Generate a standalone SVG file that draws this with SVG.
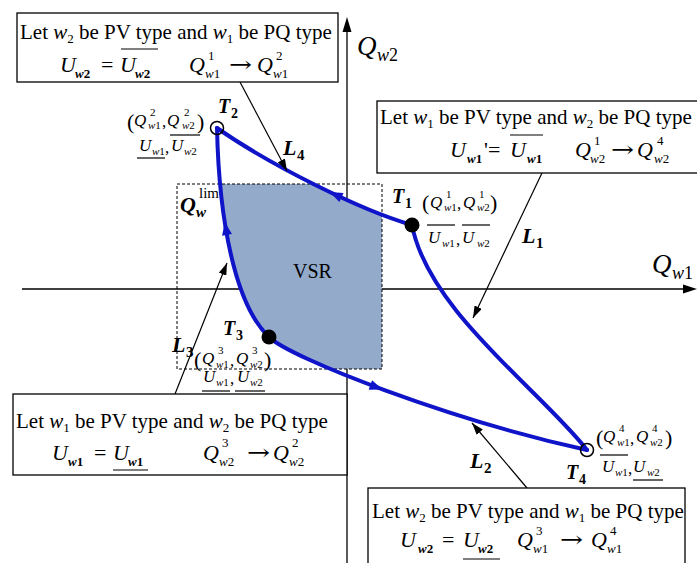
<svg xmlns="http://www.w3.org/2000/svg" width="697" height="563" viewBox="0 0 697 563">
<style>
text{font-family:"Liberation Serif","Times New Roman",serif;fill:#000}
.i{font-style:italic}
.b{font-weight:bold}
.box{fill:#fff;stroke:#000;stroke-width:1.3}
.ax{stroke:#000;stroke-width:1.3;fill:none}
.cur{fill:none;stroke:#0f14c8;stroke-width:4;stroke-linecap:round}
.ptr{stroke:#000;stroke-width:1.2;fill:none;marker-end:url(#ah)}
.ol{stroke:#000;stroke-width:1.2}
.ba{fill:#0f14c8}
.lt{font-size:21px}
.m{font-size:22px}
.ar{font-family:"DejaVu Serif","Liberation Serif",serif;font-size:22px}
.ms{font-size:13px}
.s{font-size:17px}
.ss{font-size:11px}
</style>
<defs>
<marker id="ah" viewBox="0 0 12 8" refX="12" refY="4" markerWidth="12" markerHeight="8" markerUnits="userSpaceOnUse" orient="auto"><path d="M0,0 L12,4 L0,8 Z" fill="#000"/></marker>
<clipPath id="rc"><rect x="177" y="184" width="205" height="185"/></clipPath>
<path id="bah" d="M7,0 L-6,-5 L-6,5 Z"/>
</defs>
<rect width="697" height="563" fill="#fff"/>
<g id="axes">
<line class="ax" x1="22" y1="289" x2="686" y2="289"/>
<path d="M697,289 L683,284.5 L683,293.5 Z"/>
<line class="ax" x1="347" y1="563" x2="347" y2="28"/>
<path d="M347,17 L342.5,32 L351.5,32 Z"/>
<text class="i" x="652" y="273" font-size="27">Q</text>
<text x="672" y="279" font-size="18"><tspan class="i">w</tspan>1</text>
<text class="i" x="357" y="55" font-size="27">Q</text>
<text x="377" y="61" font-size="18"><tspan class="i">w</tspan>2</text>
</g>
<g id="VSR">
<path clip-path="url(#rc)" fill="#93aacb" d="M412,225 C428,310 540,390 587,450 C450,420 290,358 269,337 C235,305 219,220 217,128 C270,165 360,210 412,225 Z"/>
<rect x="177" y="184" width="205" height="185" fill="none" stroke="#000" stroke-width="1" stroke-dasharray="3,2"/>
<text x="293" y="278" font-size="20">VSR</text>
<text class="i b" x="180" y="212" font-size="22">Q</text>
<text class="i b" x="196" y="217" font-size="15">w</text>
<text x="199" y="198" font-size="15">lim</text>
</g>
<g id="connectors">
<path id="L1" class="cur" d="M412,225 C428,310 540,390 587,450"/>
<path id="L2" class="cur" d="M269,337 C290,358 450,420 587,450"/>
<path id="L3" class="cur" d="M269,337 C235,305 219,220 217,128"/>
<path id="L4" class="cur" d="M217,128 C270,165 360,210 412,225"/>
<use href="#bah" class="ba" transform="translate(336,195) rotate(205)"/>
<use href="#bah" class="ba" transform="translate(226,229) rotate(-100)"/>
<use href="#bah" class="ba" transform="translate(376,387) rotate(20)"/>
<line class="ptr" x1="240" y1="82" x2="287" y2="171"/>
<line class="ptr" x1="542" y1="173" x2="473" y2="318"/>
<line class="ptr" x1="527" y1="488" x2="472" y2="423"/>
<line class="ptr" x1="175" y1="394" x2="227" y2="263"/>
<text class="i b" x="522" y="243" font-size="22">L</text><text class="b" x="536" y="248" font-size="15">1</text>
<text class="i b" x="470" y="468" font-size="22">L</text><text class="b" x="484" y="473" font-size="15">2</text>
<text class="i b" x="172" y="352" font-size="22">L</text><text class="b" x="186" y="357" font-size="15">3</text>
<text class="i b" x="283" y="155" font-size="22">L</text><text class="b" x="297" y="160" font-size="15">4</text>
</g>
<g id="T1">
<circle cx="412" cy="225" r="7.5" fill="#000"/>
<text class="i b" x="392" y="203" font-size="20">T</text><text class="b" x="405" y="208" font-size="14">1</text>
<text x="422" y="210" font-size="22">(</text>
<text class="i s" x="430" y="208">Q</text><text class="ss" x="446" y="198">1</text><text class="ss" x="444" y="211"><tspan class="i">w</tspan>1</text>
<text class="s" x="457" y="209">,</text>
<text class="i s" x="463" y="208">Q</text><text class="ss" x="479" y="198">1</text><text class="ss" x="477" y="211"><tspan class="i">w</tspan>2</text>
<text x="490" y="210" font-size="22">)</text>
<text class="i s" x="428" y="243">U</text><text class="ss" x="442" y="247"><tspan class="i">w</tspan>1</text>
<text class="s" x="456" y="245">,</text>
<text class="i s" x="462" y="243">U</text><text class="ss" x="477" y="247"><tspan class="i">w</tspan>2</text>
<line class="ol" x1="427" y1="225" x2="455" y2="225"/>
<line class="ol" x1="462" y1="225" x2="490" y2="225"/>
</g>
<g id="T2">
<circle cx="217" cy="128" r="6.5" fill="none" stroke="#000" stroke-width="1.5"/>
<text class="i b" x="218" y="113" font-size="20">T</text><text class="b" x="231" y="118" font-size="14">2</text>
<text x="127" y="129" font-size="22">(</text>
<text class="i s" x="134" y="126">Q</text><text class="ss" x="150" y="116">2</text><text class="ss" x="148" y="129"><tspan class="i">w</tspan>1</text>
<text class="s" x="162" y="127">,</text>
<text class="i s" x="167" y="126">Q</text><text class="ss" x="184" y="116">2</text><text class="ss" x="182" y="129"><tspan class="i">w</tspan>2</text>
<text x="197" y="129" font-size="22">)</text>
<text class="i s" x="139" y="151">U</text><text class="ss" x="152" y="155"><tspan class="i">w</tspan>1</text>
<text class="s" x="165" y="153">,</text>
<text class="i s" x="171" y="151">U</text><text class="ss" x="184" y="155"><tspan class="i">w</tspan>2</text>
<line class="ol" x1="137" y1="158" x2="165" y2="158"/>
<line class="ol" x1="170" y1="135" x2="200" y2="135"/>
</g>
<g id="T3">
<circle cx="269" cy="337" r="7.5" fill="#000"/>
<text class="i b" x="223" y="335" font-size="20">T</text><text class="b" x="236" y="340" font-size="14">3</text>
<text x="194" y="367" font-size="22">(</text>
<text class="i s" x="202" y="364">Q</text><text class="ss" x="218" y="354">3</text><text class="ss" x="216" y="368"><tspan class="i">w</tspan>1</text>
<text class="s" x="230" y="366">,</text>
<text class="i s" x="236" y="364">Q</text><text class="ss" x="252" y="354">3</text><text class="ss" x="250" y="368"><tspan class="i">w</tspan>2</text>
<text x="264" y="367" font-size="22">)</text>
<text class="i s" x="203" y="382">U</text><text class="ss" x="216" y="386"><tspan class="i">w</tspan>1</text>
<text class="s" x="230" y="384">,</text>
<text class="i s" x="237" y="382">U</text><text class="ss" x="250" y="386"><tspan class="i">w</tspan>2</text>
<line class="ol" x1="202" y1="391" x2="230" y2="391"/>
<line class="ol" x1="235" y1="391" x2="265" y2="391"/>
</g>
<g id="T4">
<circle cx="587" cy="450" r="6.5" fill="none" stroke="#000" stroke-width="1.5"/>
<text class="i b" x="566" y="479" font-size="20">T</text><text class="b" x="579" y="484" font-size="14">4</text>
<text x="596" y="445" font-size="22">(</text>
<text class="i s" x="603" y="442">Q</text><text class="ss" x="619" y="432">4</text><text class="ss" x="617" y="446"><tspan class="i">w</tspan>1</text>
<text class="s" x="630" y="444">,</text>
<text class="i s" x="636" y="442">Q</text><text class="ss" x="652" y="432">4</text><text class="ss" x="650" y="446"><tspan class="i">w</tspan>2</text>
<text x="665" y="445" font-size="22">)</text>
<text class="i s" x="602" y="472">U</text><text class="ss" x="615" y="476"><tspan class="i">w</tspan>1</text>
<text class="s" x="628" y="474">,</text>
<text class="i s" x="633" y="472">U</text><text class="ss" x="647" y="476"><tspan class="i">w</tspan>2</text>
<line class="ol" x1="600" y1="455" x2="628" y2="455"/>
<line class="ol" x1="633" y1="480" x2="663" y2="480"/>
</g>
<g id="box-top-left">
<rect class="box" x="17" y="13" width="321" height="69"/>
<text class="lt" x="20" y="39">Let <tspan class="i">w</tspan><tspan font-size="13" dy="4">2</tspan><tspan dy="-4"> be PV type and </tspan><tspan class="i">w</tspan><tspan font-size="13" dy="4">1</tspan><tspan dy="-4"> be PQ type</tspan></text>
<text class="i m" x="60" y="72">U</text><text class="b ms" x="75" y="78"><tspan class="i">w</tspan>2</text>
<text class="m" x="101" y="72">=</text>
<text class="i m" x="120" y="72">U</text><text class="b ms" x="135" y="78"><tspan class="i">w</tspan>2</text>
<line class="ol" x1="121" y1="49" x2="158" y2="49"/>
<text class="i m" x="189" y="72">Q</text><text class="ms" x="208" y="60">1</text><text class="ms" x="205" y="78"><tspan class="i">w</tspan>1</text>
<text class="ar" x="229" y="72" textLength="23" lengthAdjust="spacingAndGlyphs">→</text>
<text class="i m" x="257" y="72">Q</text><text class="ms" x="276" y="60">2</text><text class="ms" x="273" y="78"><tspan class="i">w</tspan>1</text>
</g>
<g id="box-right">
<rect class="box" x="377" y="101" width="330" height="72"/>
<text class="lt" x="380" y="124">Let <tspan class="i">w</tspan><tspan font-size="13" dy="4">1</tspan><tspan dy="-4"> be PV type and </tspan><tspan class="i">w</tspan><tspan font-size="13" dy="4">2</tspan><tspan dy="-4"> be PQ type</tspan></text>
<text class="i m" x="450" y="157">U</text><text class="b ms" x="467" y="163"><tspan class="i">w</tspan>1</text>
<text class="m" x="484" y="157">'=</text>
<text class="i m" x="510" y="157">U</text><text class="b ms" x="527" y="163"><tspan class="i">w</tspan>1</text>
<line class="ol" x1="510" y1="135" x2="543" y2="135"/>
<text class="i m" x="575" y="157">Q</text><text class="ms" x="594" y="145">1</text><text class="ms" x="590" y="163"><tspan class="i">w</tspan>2</text>
<text class="ar" x="611" y="157" textLength="23" lengthAdjust="spacingAndGlyphs">→</text>
<text class="i m" x="637" y="157">Q</text><text class="ms" x="657" y="145">4</text><text class="ms" x="654" y="163"><tspan class="i">w</tspan>2</text>
</g>
<g id="box-bottom-left">
<rect class="box" x="13" y="394" width="334" height="81"/>
<text class="lt" x="16" y="428">Let <tspan class="i">w</tspan><tspan font-size="13" dy="4">1</tspan><tspan dy="-4"> be PV type and </tspan><tspan class="i">w</tspan><tspan font-size="13" dy="4">2</tspan><tspan dy="-4"> be PQ type</tspan></text>
<text class="i m" x="52" y="460">U</text><text class="b ms" x="68" y="466"><tspan class="i">w</tspan>1</text>
<text class="m" x="94" y="460">=</text>
<text class="i m" x="113" y="460">U</text><text class="b ms" x="128" y="466"><tspan class="i">w</tspan>1</text>
<line class="ol" x1="113" y1="470" x2="148" y2="470"/>
<text class="i m" x="203" y="460">Q</text><text class="ms" x="222" y="447">3</text><text class="ms" x="219" y="466"><tspan class="i">w</tspan>2</text>
<text class="ar" x="247" y="460" textLength="23" lengthAdjust="spacingAndGlyphs">→</text>
<text class="i m" x="273" y="460">Q</text><text class="ms" x="292" y="447">2</text><text class="ms" x="289" y="466"><tspan class="i">w</tspan>2</text>
</g>
<g id="box-bottom-right">
<rect class="box" x="368" y="488" width="317" height="90"/>
<text class="lt" x="372" y="518">Let <tspan class="i">w</tspan><tspan font-size="13" dy="4">2</tspan><tspan dy="-4"> be PV type and </tspan><tspan class="i">w</tspan><tspan font-size="13" dy="4">1</tspan><tspan dy="-4"> be PQ type</tspan></text>
<text class="i m" x="400" y="547">U</text><text class="b ms" x="418" y="553"><tspan class="i">w</tspan>2</text>
<text class="m" x="442" y="547">=</text>
<text class="i m" x="463" y="547">U</text><text class="b ms" x="478" y="553"><tspan class="i">w</tspan>2</text>
<line class="ol" x1="463" y1="559" x2="500" y2="559"/>
<text class="i m" x="517" y="547">Q</text><text class="ms" x="536" y="535">3</text><text class="ms" x="533" y="553"><tspan class="i">w</tspan>1</text>
<text class="ar" x="560" y="547" textLength="23" lengthAdjust="spacingAndGlyphs">→</text>
<text class="i m" x="591" y="547">Q</text><text class="ms" x="610" y="535">4</text><text class="ms" x="607" y="553"><tspan class="i">w</tspan>1</text>
</g>
</svg>
